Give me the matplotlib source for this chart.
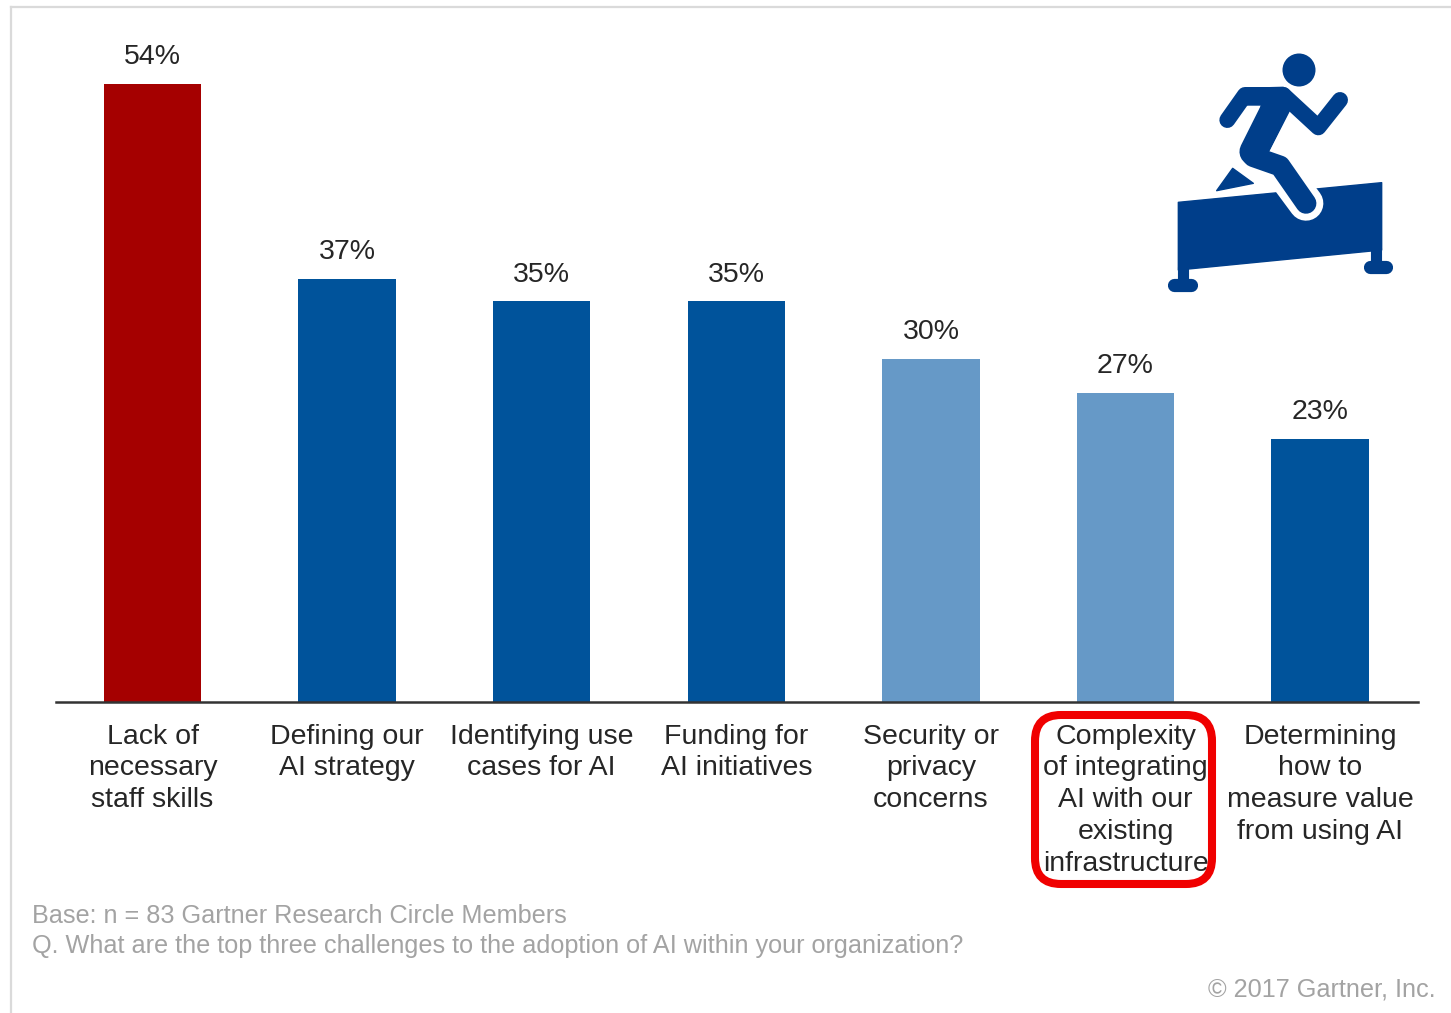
import matplotlib
matplotlib.use("Agg")
import matplotlib.pyplot as plt
from matplotlib.patches import FancyBboxPatch, Polygon, Circle

plt.rcParams['font.family'] = ['Liberation Sans', 'DejaVu Sans']

categories = [
    "Lack of\nnecessary\nstaff skills",
    "Defining our\nAI strategy",
    "Identifying use\ncases for AI",
    "Funding for\nAI initiatives",
    "Security or\nprivacy\nconcerns",
    "Complexity\nof integrating\nAI with our\nexisting\ninfrastructure",
    "Determining\nhow to\nmeasure value\nfrom using AI",
]
values = [54, 37, 35, 35, 30, 27, 23]
colors = ["#A50000", "#00539B", "#00539B", "#00539B", "#6699C7", "#6699C7", "#00539B"]
footnotes = [
    "Base: n = 83 Gartner Research Circle Members",
    "Q. What are the top three challenges to the adoption of AI within your organization?",
]
copyright_text = "© 2017 Gartner, Inc."

W, H = 1451, 1013
DARK = "#262626"
GREY = "#A3A3A3"
ICON = "#003E8A"

fig = plt.figure(figsize=(W / 100, H / 100), dpi=100, facecolor="white")

# Bar panel: the baseline sits at y=702 and the tallest bar reaches y=84
ax = fig.add_axes([56 / W, 1 - 702 / H, (1418 - 56) / W, (702 - 84) / H])
ax.bar(range(len(values)), values, width=0.5, color=colors)
ax.set_xlim(-0.496, 6.503)
ax.set_ylim(0, 54)
for side in ("top", "left", "right"):
    ax.spines[side].set_visible(False)
ax.spines["bottom"].set_color("#333333")
ax.spines["bottom"].set_linewidth(1.8)
ax.set_yticks([])
ax.set_xticks(range(len(values)))
ax.set_xticklabels(categories, fontsize=20.5, color=DARK, linespacing=1.29, va="top")
ax.tick_params(axis="x", length=0, pad=15.5)
for i, v in enumerate(values):
    ax.annotate(f"{v}%", (i, v), xytext=(0, 10), textcoords="offset points",
                ha="center", va="bottom", fontsize=20.5, color=DARK, annotation_clip=False)

# Overlay in pixel coordinates for the frame, callout, footnotes and icon
ov = fig.add_axes([0, 0, 1, 1], facecolor="none")
ov.set_xlim(0, W)
ov.set_ylim(H, 0)
ov.axis("off")

ov.plot([11, 1451], [7, 7], color="#DADADA", lw=1.6)
ov.plot([11, 11], [7, 1013], color="#DADADA", lw=1.6)

ov.add_patch(FancyBboxPatch((1035 + 26, 715 + 26), 177 - 52, 169 - 52,
                            boxstyle="round,pad=26,rounding_size=26",
                            fc="none", ec="#F00000", lw=5.8, zorder=5))

ov.text(32, 916, footnotes[0], fontsize=18.2, color=GREY, va="center", ha="left")
ov.text(32, 946, footnotes[1], fontsize=18.2, color=GREY, va="center", ha="left")
ov.text(1436, 989, copyright_text, fontsize=18.2, color=GREY, va="center", ha="right")


def zx(x):
    return 1150 + x / 3


def zy(y):
    return 40 + y / 3


def stroke(points, width, color=ICON, z=6):
    ov.plot([zx(p[0]) for p in points], [zy(p[1]) for p in points], color=color, lw=width,
            solid_capstyle="round", solid_joinstyle="round", zorder=z)


def shape(points, color=ICON, z=6):
    ov.add_patch(Polygon([(zx(x), zy(y)) for x, y in points],
                         fc=color, ec=color, lw=1, joinstyle="round", zorder=z))


# Hurdle with its two posts and feet
shape([(85, 487), (695, 428), (695, 630), (85, 690)])
stroke([(100, 680), (100, 735)], 8)
stroke([(678, 625), (678, 680)], 8)
stroke([(72, 735), (122, 735)], 9.5)
stroke([(660, 680), (708, 680)], 9.5)

# Runner: a white halo cuts into the hurdle, then the figure goes on top
stroke([(385, 378), (468, 490)], 25, color="white", z=7)
shape([(200, 452), (248, 385), (310, 430)], z=8)
stroke([(232, 240), (285, 165), (400, 165)], 11.5, z=9)
stroke([(400, 165), (505, 262), (570, 180)], 11.5, z=9)
shape([(285, 145), (400, 142), (432, 185), (350, 345), (290, 345), (335, 195), (285, 195)], z=9)
stroke([(385, 185), (310, 335)], 20, z=9)
stroke([(310, 350), (390, 378), (468, 490)], 15, z=9)
ov.add_patch(Circle((zx(447), zy(90)), 16.5, fc=ICON, ec="none", zorder=9))

fig.savefig("out.png", dpi=100, facecolor="white")
